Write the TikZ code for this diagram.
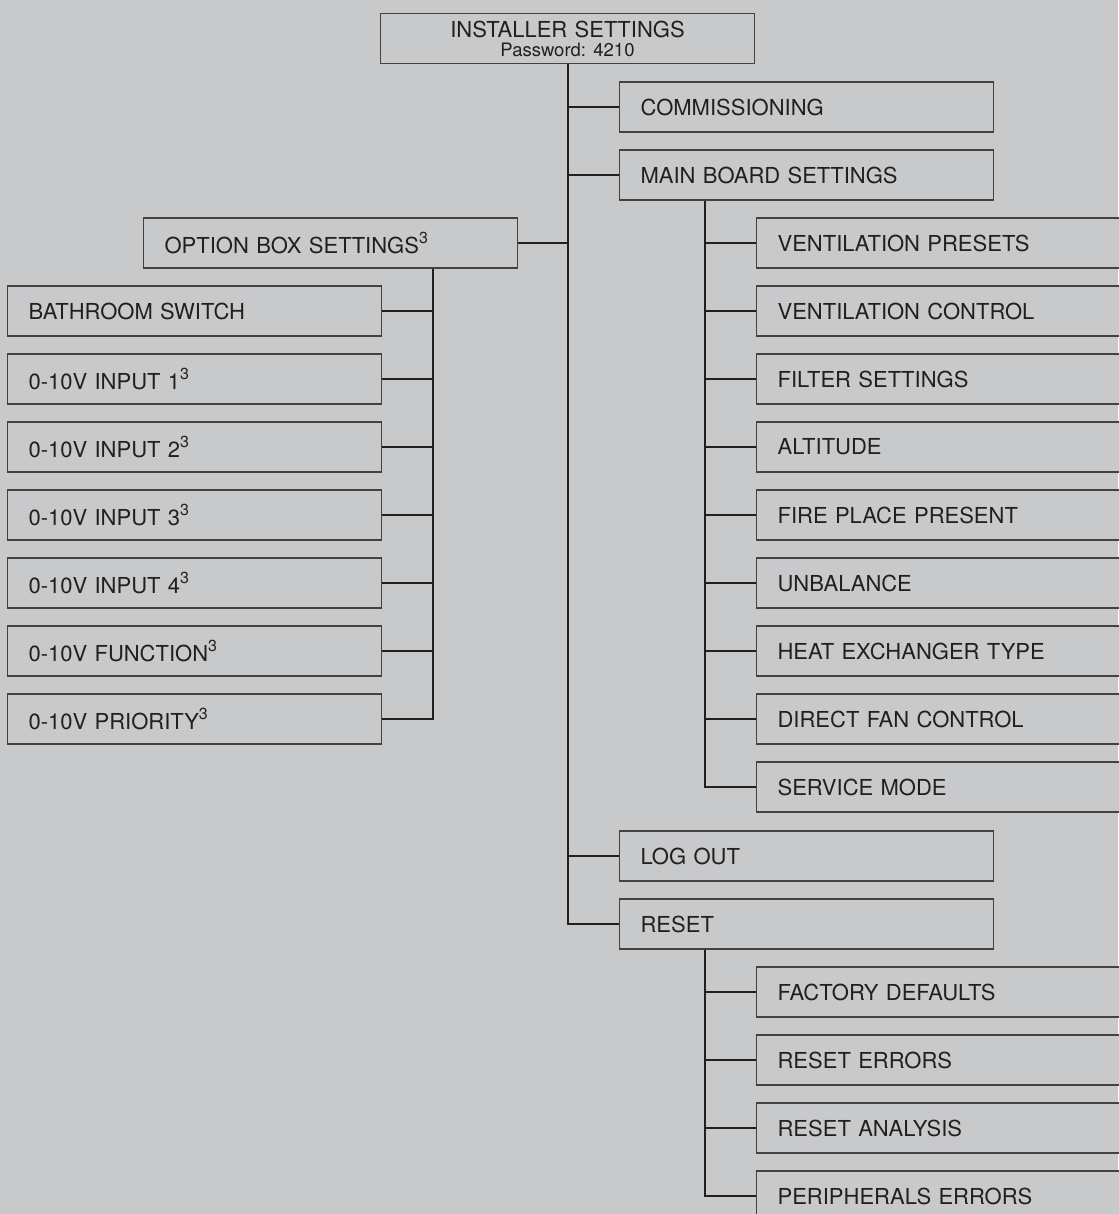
\documentclass[tikz,border=0pt]{standalone}
\usepackage{fontspec}
\setmainfont{TeX Gyre Heros}
\usetikzlibrary{positioning}
\definecolor{panel}{HTML}{C8C9CB}
\definecolor{ink}{HTML}{231F20}
\tikzset{
  menu/.style={draw=ink!85, line width=1.2pt, fill=panel, text=ink, anchor=west,
    minimum width=374pt, minimum height=50pt, text width=332pt, inner xsep=21pt,
    align=left, font=\fontsize{22}{24}\selectfont},
  topmenu/.style={menu, anchor=center, minimum width=373pt, align=center,
    font=\fontsize{22}{19}\selectfont},
  link/.style={draw=ink, line width=2pt},
}
\newcommand{\notemark}{\raisebox{10pt}{\fontsize{16}{16}\selectfont 3}}
\frenchspacing
\begin{document}
\begin{tikzpicture}[x=1pt,y=-1pt]
\fill[panel] (0,0) rectangle (1118,1214);
\useasboundingbox (0,0) rectangle (1118,1214);

\node[topmenu] (inst) at (567.5,38.5) {INSTALLER SETTINGS\\{\fontsize{18.5}{19}\selectfont Password: 4210}};

\node[menu] (comm) at (619,107) {COMMISSIONING};
\node[menu] (mainb) at (619,175) {MAIN BOARD SETTINGS};
\node[menu] (logout) at (619,856) {LOG OUT};
\node[menu] (reset) at (619,924) {RESET};

\node[menu] (opt) at (143,243) {OPTION BOX SETTINGS\notemark};
\node[menu] (bath) at (7,311) {BATHROOM SWITCH};
\node[menu] (inone) at (7,379) {0-10V INPUT 1\notemark};
\node[menu] (intwo) at (7,447) {0-10V INPUT 2\notemark};
\node[menu] (inthree) at (7,515) {0-10V INPUT 3\notemark};
\node[menu] (infour) at (7,583) {0-10V INPUT 4\notemark};
\node[menu] (func) at (7,651) {0-10V FUNCTION\notemark};
\node[menu] (prio) at (7,719) {0-10V PRIORITY\notemark};

\node[menu] (vpre) at (756,243) {VENTILATION PRESETS};
\node[menu] (vctl) at (756,311) {VENTILATION CONTROL};
\node[menu] (filt) at (756,379) {FILTER SETTINGS};
\node[menu] (alt) at (756,447) {ALTITUDE};
\node[menu] (fire) at (756,515) {FIRE PLACE PRESENT};
\node[menu] (unbal) at (756,583) {UNBALANCE};
\node[menu] (hex) at (756,651) {HEAT EXCHANGER TYPE};
\node[menu] (fan) at (756,719) {DIRECT FAN CONTROL};
\node[menu] (svc) at (756,787) {SERVICE MODE};

\node[menu] (fdef) at (756,992) {FACTORY DEFAULTS};
\node[menu] (rerr) at (756,1060) {RESET ERRORS};
\node[menu] (rana) at (756,1128) {RESET ANALYSIS};
\node[menu] (perr) at (756,1196) {PERIPHERALS ERRORS};

\coordinate (mbt) at ([xshift=86pt]mainb.south west);
\coordinate (rst) at ([xshift=86pt]reset.south west);
\coordinate (obt) at ([xshift=-85pt]opt.south east);

\draw[link] (inst.south) |- (reset.west);
\draw[link] (inst.south |- comm.west) -- (comm.west);
\draw[link] (inst.south |- mainb.west) -- (mainb.west);
\draw[link] (inst.south |- logout.west) -- (logout.west);
\draw[link] (opt.east) -- (inst.south |- opt.east);

\draw[link] (obt) |- (prio.east);
\draw[link] (bath.east) -- (obt |- bath.east);
\draw[link] (inone.east) -- (obt |- inone.east);
\draw[link] (intwo.east) -- (obt |- intwo.east);
\draw[link] (inthree.east) -- (obt |- inthree.east);
\draw[link] (infour.east) -- (obt |- infour.east);
\draw[link] (func.east) -- (obt |- func.east);

\draw[link] (mbt) |- (svc.west);
\draw[link] (mbt |- vpre.west) -- (vpre.west);
\draw[link] (mbt |- vctl.west) -- (vctl.west);
\draw[link] (mbt |- filt.west) -- (filt.west);
\draw[link] (mbt |- alt.west) -- (alt.west);
\draw[link] (mbt |- fire.west) -- (fire.west);
\draw[link] (mbt |- unbal.west) -- (unbal.west);
\draw[link] (mbt |- hex.west) -- (hex.west);
\draw[link] (mbt |- fan.west) -- (fan.west);

\draw[link] (rst) |- (perr.west);
\draw[link] (rst |- fdef.west) -- (fdef.west);
\draw[link] (rst |- rerr.west) -- (rerr.west);
\draw[link] (rst |- rana.west) -- (rana.west);
\end{tikzpicture}
\end{document}
